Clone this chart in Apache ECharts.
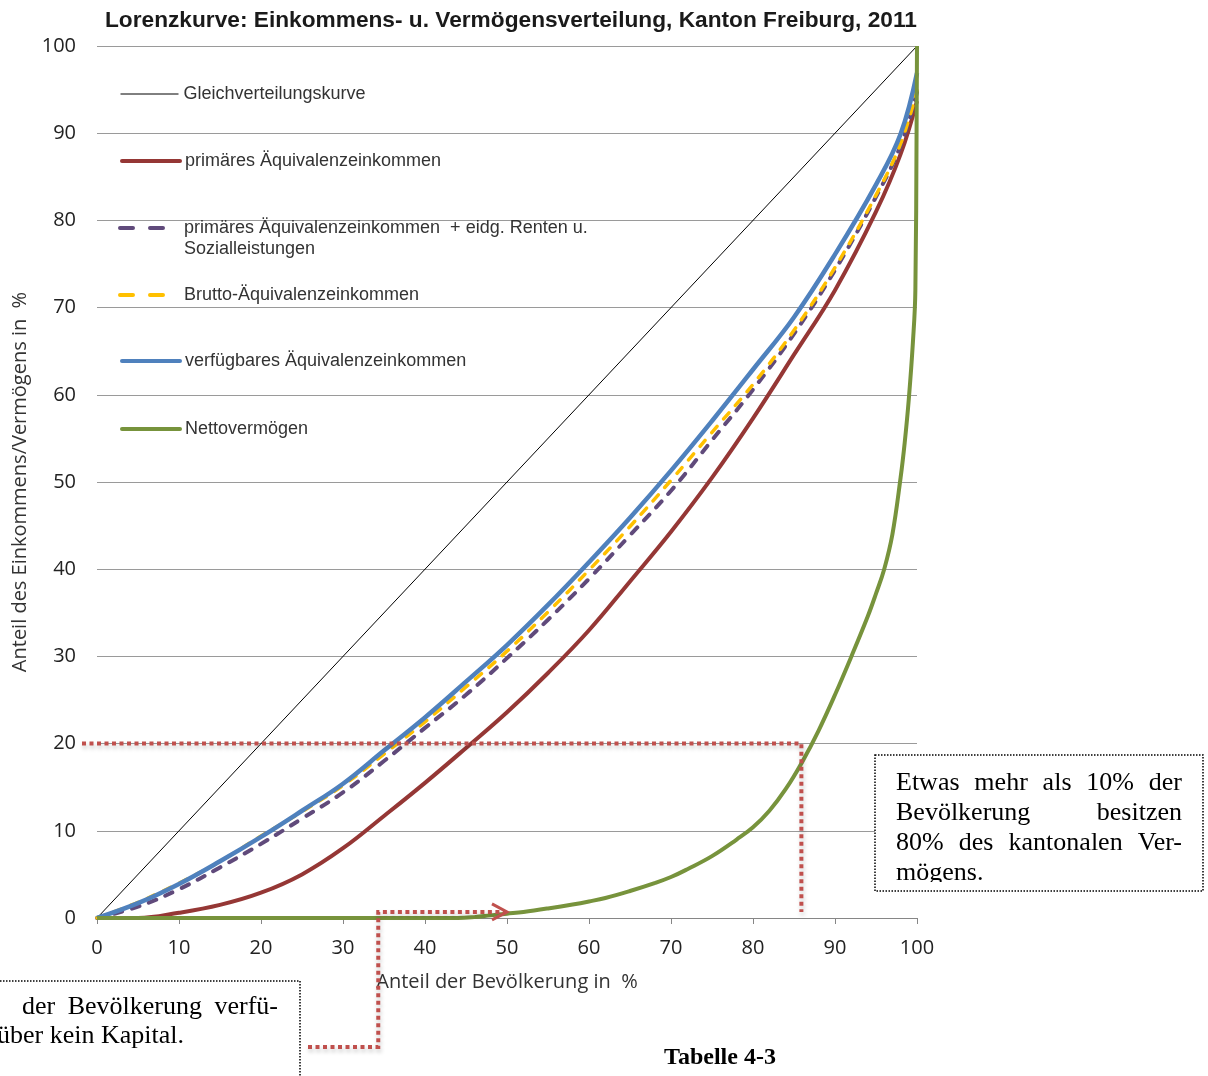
<!DOCTYPE html>
<html>
<head>
<meta charset="utf-8">
<script src="https://cdn.jsdelivr.net/npm/echarts@6/dist/echarts.min.js"></script>
<style>
  html, body { margin: 0; padding: 0; background: #fff; }
  #chart { width: 1208px; height: 1076px; }
</style>
</head>
<body>
<div id="chart"></div>
<script>
// Population share (x, in %) at which the income curves are sampled
const populationShare = [0, 5, 10, 15, 20, 25, 30, 35, 40, 45, 50, 55, 60, 65, 70, 75, 80, 85, 90, 95, 98, 100];
// Cumulative income shares (y, in %)
const primaryIncome        = [0, 0, 0.6, 1.5, 2.9, 5.0, 8.0, 11.7, 15.5, 19.5, 23.6, 28.1, 33.0, 38.6, 44.3, 50.5, 57.3, 64.6, 72.0, 81.0, 87.6, 93.7];
const primaryPlusTransfers = [0, 1.3, 3.3, 5.8, 8.5, 11.4, 14.4, 18.0, 21.8, 25.6, 29.8, 34.2, 38.9, 43.9, 49.0, 54.8, 60.6, 67.0, 74.3, 82.7, 88.6, 94.7];
const grossIncome          = [0, 1.8, 4.0, 6.5, 9.4, 12.2, 15.2, 18.8, 22.5, 26.5, 30.6, 35.1, 39.9, 44.9, 50.2, 55.7, 61.2, 67.4, 74.6, 82.9, 88.8, 94.9];
const disposableIncome     = [0, 1.7, 3.9, 6.5, 9.3, 12.3, 15.4, 19.2, 23.0, 27.1, 31.3, 35.9, 40.8, 45.9, 51.3, 57.0, 62.9, 68.9, 76.1, 84.1, 89.9, 96.9];
// Net wealth: population share and cumulative wealth share
const wealthPopShare = [0, 44, 46, 48, 50, 52, 55, 58, 60, 62, 65, 68, 70, 72, 75, 78, 80, 82, 84, 86, 88, 90, 92, 94, 95, 96, 97, 98, 98.5, 99, 99.5, 99.8, 100];
const netWealth      = [0, 0, 0.1, 0.3, 0.5, 0.7, 1.1, 1.55, 1.9, 2.3, 3.1, 4.0, 4.7, 5.6, 7.1, 9.0, 10.4, 12.3, 14.8, 17.9, 21.5, 25.6, 30.0, 34.6, 37.2, 40.0, 44.0, 50.5, 54.5, 59.5, 66.0, 72.0, 100];
// Line of perfect equality
const equalityX = [0, 100];
const equalityY = [0, 100];

const seriesNames = [
  'Gleichverteilungskurve',
  'primäres Äquivalenzeinkommen',
  'primäres Äquivalenzeinkommen  + eidg. Renten u. Sozialleistungen',
  'Brutto-Äquivalenzeinkommen',
  'verfügbares Äquivalenzeinkommen',
  'Nettovermögen'
];

const pairs = (xs, ys) => xs.map((x, i) => [x, ys[i]]);

const SANS = '"Liberation Sans", Arial, sans-serif';
const AXISFONT = '"Open Sans", sans-serif';
const SERIF = '"Liberation Serif", "Times New Roman", serif';

const chart = echarts.init(document.getElementById('chart'), null, { renderer: 'canvas' });

// two rounded dashes, used as the key for the dashed series
const DASH_ICON = 'path://M2,0H15A2,2,0,0,1,15,4H2A2,2,0,0,1,2,0ZM32,0H45A2,2,0,0,1,45,4H32A2,2,0,0,1,32,0Z';

// one legend block per entry so each entry can sit at its own height
const legendCenters = [94, 161, 228, 295, 361, 429];
const legendLine = [
  { width: 1, type: 'solid', cap: 'butt' },
  { width: 4, type: 'solid', cap: 'round' },
  null,
  null,
  { width: 4, type: 'solid', cap: 'round' },
  { width: 4, type: 'solid', cap: 'round' }
];
const legends = seriesNames.map((name, i) => {
  const twoLine = i === 2;
  const dashed = i === 2 || i === 3;
  const base = {
    // text line (21px) is taller than the icon; the two-line entry starts with a blank line
    top: twoLine ? legendCenters[i] - 31.5 : legendCenters[i] - 10.5,
    padding: 0,
    selectedMode: false,
    formatter: twoLine
      ? () => '\nprimäres Äquivalenzeinkommen  + eidg. Renten u.\nSozialleistungen'
      : undefined,
    textStyle: {
      fontFamily: SANS,
      fontSize: 18,
      color: '#333',
      lineHeight: 21,
      padding: dashed ? [0, 0, 0, 14] : 0
    }
  };
  if (dashed) {
    return Object.assign(base, {
      data: [{ name, icon: DASH_ICON }],
      icon: DASH_ICON,
      left: 118, itemWidth: 47, itemHeight: 4, symbolKeepAspect: false,
      itemStyle: { borderWidth: 0 }
    });
  }
  return Object.assign(base, {
    data: [name],
    left: 120, itemWidth: 58, itemHeight: 14,
    lineStyle: legendLine[i],
    itemStyle: { color: 'rgba(0,0,0,0)', borderWidth: 0, opacity: 0 }
  });
});

const option = {
  animation: false,
  backgroundColor: '#ffffff',
  title: {
    text: 'Lorenzkurve: Einkommens- u. Vermögensverteilung, Kanton Freiburg, 2011',
    left: 105,
    top: 9,
    padding: 0,
    textStyle: { fontFamily: SANS, fontSize: 22.7, fontWeight: 'bold', color: '#1a1a1a' }
  },
  legend: legends,
  grid: { left: 97, right: 291, top: 46, bottom: 158, containLabel: false },
  xAxis: {
    type: 'value',
    min: 0, max: 100, interval: 10,
    name: 'Anteil der Bevölkerung in  %',
    nameLocation: 'middle',
    nameGap: 54,
    nameTextStyle: { fontFamily: AXISFONT, fontSize: 20, color: '#333' },
    axisLine: { show: true, lineStyle: { color: '#868686', width: 1 } },
    axisTick: { show: true, length: 6, lineStyle: { color: '#868686' } },
    axisLabel: { margin: 20, fontFamily: AXISFONT, fontSize: 20, color: '#222' },
    splitLine: { show: false }
  },
  yAxis: {
    type: 'value',
    min: 0, max: 100, interval: 10,
    name: 'Anteil des Einkommens/Vermögens in  %',
    nameLocation: 'middle',
    nameGap: 64,
    nameTextStyle: { fontFamily: AXISFONT, fontSize: 20, color: '#333' },
    axisLine: { show: false },
    axisTick: { show: false },
    axisLabel: { margin: 21, fontFamily: AXISFONT, fontSize: 20, color: '#222' },
    splitLine: { show: true, lineStyle: { color: '#9a9a9a', width: 1 } }
  },
  series: [
    {
      name: seriesNames[0], type: 'line', symbol: 'none',
      data: pairs(equalityX, equalityY),
      lineStyle: { color: '#000000', width: 1 },
      itemStyle: { color: '#000000' }
    },
    {
      name: seriesNames[1], type: 'line', symbol: 'none', smooth: 0.4,
      data: pairs(populationShare, primaryIncome),
      lineStyle: { color: '#953735', width: 4 },
      itemStyle: { color: '#953735' }
    },
    {
      name: seriesNames[2], type: 'line', symbol: 'none', smooth: 0.4,
      data: pairs(populationShare, primaryPlusTransfers),
      lineStyle: { color: '#604A7B', width: 4, type: [8, 10], cap: 'round' },
      itemStyle: { color: '#604A7B' }
    },
    {
      name: seriesNames[3], type: 'line', symbol: 'none', smooth: 0.4,
      data: pairs(populationShare, grossIncome),
      lineStyle: { color: '#FFC000', width: 3.5, type: [8, 10], cap: 'round' },
      itemStyle: { color: '#FFC000' }
    },
    {
      name: seriesNames[4], type: 'line', symbol: 'none', smooth: 0.4,
      data: pairs(populationShare, disposableIncome),
      lineStyle: { color: '#4F81BD', width: 4.5 },
      itemStyle: { color: '#4F81BD' }
    },
    {
      name: seriesNames[5], type: 'line', symbol: 'none', smooth: 0.4,
      data: pairs(wealthPopShare, netWealth),
      lineStyle: { color: '#77933C', width: 4 },
      itemStyle: { color: '#77933C' }
    }
  ]
};

chart.setOption(option);

// ---- annotations: callout boxes and dotted connectors ----
const measureCtx = document.createElement('canvas').getContext('2d');
const BOX_FONT_SIZE = 26;
const boxFont = BOX_FONT_SIZE + 'px ' + SERIF;

function textEl(text, x, y, align) {
  return {
    type: 'text', z: 20,
    style: { text, x, y, align: align || 'left', verticalAlign: 'middle', font: boxFont, fill: '#000' }
  };
}
// spreads the words of a line evenly between x0 and x1
function justified(words, x0, x1, y) {
  measureCtx.font = boxFont;
  const widths = words.map(w => measureCtx.measureText(w).width);
  const total = widths.reduce((a, b) => a + b, 0);
  const gap = (x1 - x0 - total) / (words.length - 1);
  let x = x0;
  return words.map((w, i) => {
    const el = textEl(w, x, y);
    x += widths[i] + gap;
    return el;
  });
}

const px = (x, y) => chart.convertToPixel({ gridIndex: 0 }, [x, y]);

const dotted = {
  stroke: '#C0504D', lineWidth: 4, lineDash: [4, 3.5], fill: null,
  shadowColor: 'rgba(0,0,0,0.22)', shadowBlur: 4, shadowOffsetX: 1, shadowOffsetY: 3
};

// connector 1: 20 % line to the wealth curve and down
const c1 = px(85.9, 20);
const c1Bottom = px(85.9, 0.7);
const c1Left = px(0, 20)[0] - 15;
// connector 2: from lower-left box up to the point where wealth starts
const c2Up = px(34.3, 0.7);
const c2Tip = px(50, 0.7);

const rightBox = { x: 875, y: 755, w: 328, h: 136 };
const leftBox = { x: -6, y: 981, w: 306, h: 130 };

const graphics = [
  {
    type: 'polyline', z: 10,
    shape: { points: [[c1Left, c1[1]], [c1[0], c1[1]], [c1[0], c1Bottom[1]]] },
    style: dotted
  },
  {
    type: 'polyline', z: 10,
    shape: { points: [[308, 1047], [c2Up[0], 1047], [c2Up[0], c2Up[1]], [c2Tip[0] - 3, c2Tip[1]]] },
    style: dotted
  },
  {
    type: 'polyline', z: 11,
    shape: { points: [[c2Tip[0] - 15, c2Tip[1] - 8], [c2Tip[0], c2Tip[1]], [c2Tip[0] - 15, c2Tip[1] + 8]] },
    style: { stroke: '#C0504D', lineWidth: 3, fill: null }
  },
  // right box
  {
    type: 'rect', z: 15,
    shape: { x: rightBox.x, y: rightBox.y, width: rightBox.w, height: rightBox.h },
    style: { fill: '#fff', stroke: null }
  },
  ...justified(['Etwas', 'mehr', 'als', '10%', 'der'], 896, 1182, 783),
  ...justified(['Bevölkerung', 'besitzen'], 896, 1182, 813),
  ...justified(['80%', 'des', 'kantonalen', 'Ver-'], 896, 1182, 843),
  textEl('mögens.', 896, 873),
  {
    type: 'rect', z: 25,
    shape: { x: rightBox.x + 1, y: 882, width: rightBox.w - 2, height: rightBox.y + rightBox.h - 882 },
    style: { fill: '#fff', stroke: null }
  },
  {
    type: 'rect', z: 26,
    shape: { x: rightBox.x, y: rightBox.y, width: rightBox.w, height: rightBox.h },
    style: { fill: null, stroke: '#000', lineWidth: 1.5, lineDash: [1.5, 1.5] }
  },
  // lower-left box
  {
    type: 'rect', z: 15,
    shape: { x: leftBox.x, y: leftBox.y, width: leftBox.w, height: leftBox.h },
    style: { fill: '#fff', stroke: '#000', lineWidth: 1.5, lineDash: [1.5, 1.5] }
  },
  ...justified(['der', 'Bevölkerung', 'verfü-'], 22, 278, 1007),
  textEl('über kein Kapital.', -3, 1036),
  // caption
  {
    type: 'text', z: 20,
    style: {
      text: 'Tabelle 4-3', x: 720, y: 1058, align: 'center', verticalAlign: 'middle',
      font: 'bold 24px ' + SERIF, fill: '#000'
    }
  }
];

chart.setOption({ graphic: graphics });
</script>
</body>
</html>
